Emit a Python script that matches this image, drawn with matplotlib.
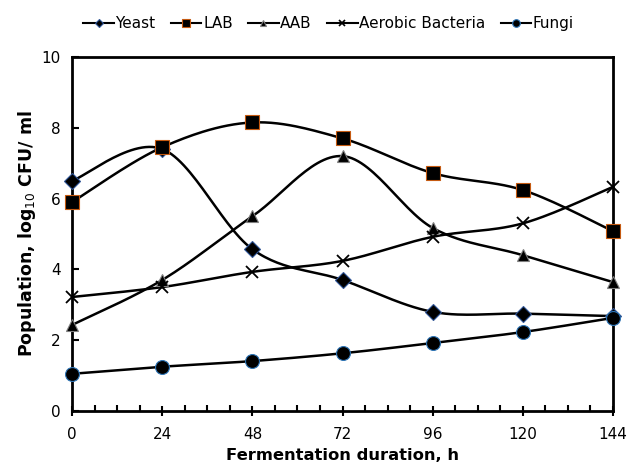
import numpy as np
import matplotlib
matplotlib.use("Agg")
from matplotlib import pyplot as plt
from matplotlib.lines import Line2D

plt.rcParams['font.family'] = 'DejaVu Sans'

hours = [0, 24, 48, 72, 96, 120, 144]
yeast = [6.5, 7.4, 4.57, 3.7, 2.8, 2.75, 2.68]
lab = [5.9, 7.45, 8.15, 7.7, 6.72, 6.24, 5.08]
aab = [2.43, 3.7, 5.5, 7.2, 5.17, 4.4, 3.64]
aerobic = [3.22, 3.5, 3.93, 4.24, 4.92, 5.3, 6.33]
fungi = [1.05, 1.25, 1.41, 1.63, 1.92, 2.23, 2.63]


def smooth(x, y, n=30):
    # excel style smoothed line (catmull-rom bezier)
    x = np.asarray(x, float)
    y = np.asarray(y, float)
    px = np.concatenate([[x[0]], x, [x[-1]]])
    py = np.concatenate([[y[0]], y, [y[-1]]])
    xs, ys = [], []
    t = np.linspace(0, 1, n)
    for i in range(1, len(px) - 2):
        p0 = np.array([px[i], py[i]])
        p3 = np.array([px[i + 1], py[i + 1]])
        p1 = p0 + (np.array([px[i + 1], py[i + 1]]) - np.array([px[i - 1], py[i - 1]])) / 6
        p2 = p3 - (np.array([px[i + 2], py[i + 2]]) - np.array([px[i], py[i]])) / 6
        b = ((1 - t) ** 3)[:, None] * p0 + (3 * (1 - t) ** 2 * t)[:, None] * p1 \
            + (3 * (1 - t) * t ** 2)[:, None] * p2 + (t ** 3)[:, None] * p3
        xs.extend(b[:, 0])
        ys.extend(b[:, 1])
    return xs, ys


series = [
    ("Yeast", yeast, "D", "#2f5597", 8),
    ("LAB", lab, "s", "#c55a11", 10),
    ("AAB", aab, "^", "#7f7f7f", 9),
    ("Aerobic Bacteria", aerobic, "x", "black", 9),
    ("Fungi", fungi, "o", "#2e75b6", 10),
]

fig = plt.figure(figsize=(6.32, 4.69), dpi=100)
ax = fig.add_axes([0.114, 0.1237, 0.856, 0.7548])

handles = []
for name, vals, mk, edge, ms in series:
    sx, sy = smooth(hours, vals)
    ax.plot(sx, sy, color="black", linewidth=1.8, zorder=2)
    if mk == "x":
        ax.plot(hours, vals, linestyle="none", marker="x", markersize=ms,
                markeredgewidth=1.3, color="black", zorder=3, clip_on=False)
    else:
        ax.plot(hours, vals, linestyle="none", marker=mk, markersize=ms,
                markerfacecolor="black", markeredgecolor=edge, markeredgewidth=0.8,
                zorder=3, clip_on=False)
    handles.append(Line2D([], [], color="black", linewidth=1.5, marker=mk,
                          markersize=ms * 0.55, markerfacecolor="black",
                          markeredgecolor=edge if mk != "x" else "black",
                          markeredgewidth=0.8 if mk != "x" else 1.2, label=name))

ax.set_xlim(0, 144)
ax.set_ylim(0, 10)
ax.set_xticks(hours)
ax.set_xticks(np.arange(0, 145, 6), minor=True)
ax.set_yticks([0, 2, 4, 6, 8, 10])
ax.tick_params(axis="x", which="major", direction="inout", length=7, width=1.5, labelsize=11, pad=8)
ax.tick_params(axis="x", which="minor", direction="in", length=4, width=1.5)
ax.tick_params(axis="y", which="major", direction="in", length=5, width=1.5, labelsize=11, pad=8)
for sp in ax.spines.values():
    sp.set_linewidth(2)

ax.set_xlabel("Fermentation duration, h", fontsize=11.8, fontweight="bold", labelpad=4)
ax.set_ylabel(r"Population, log$_{10}$ CFU/ ml", fontsize=12.5, fontweight="bold", labelpad=3)

fig.legend(handles=handles, loc="upper center", bbox_to_anchor=(0.52, 0.995), ncol=5,
           frameon=False, fontsize=11, handlelength=2.0, handletextpad=0.1, columnspacing=1.0)

fig.savefig("out.png", dpi=100)
